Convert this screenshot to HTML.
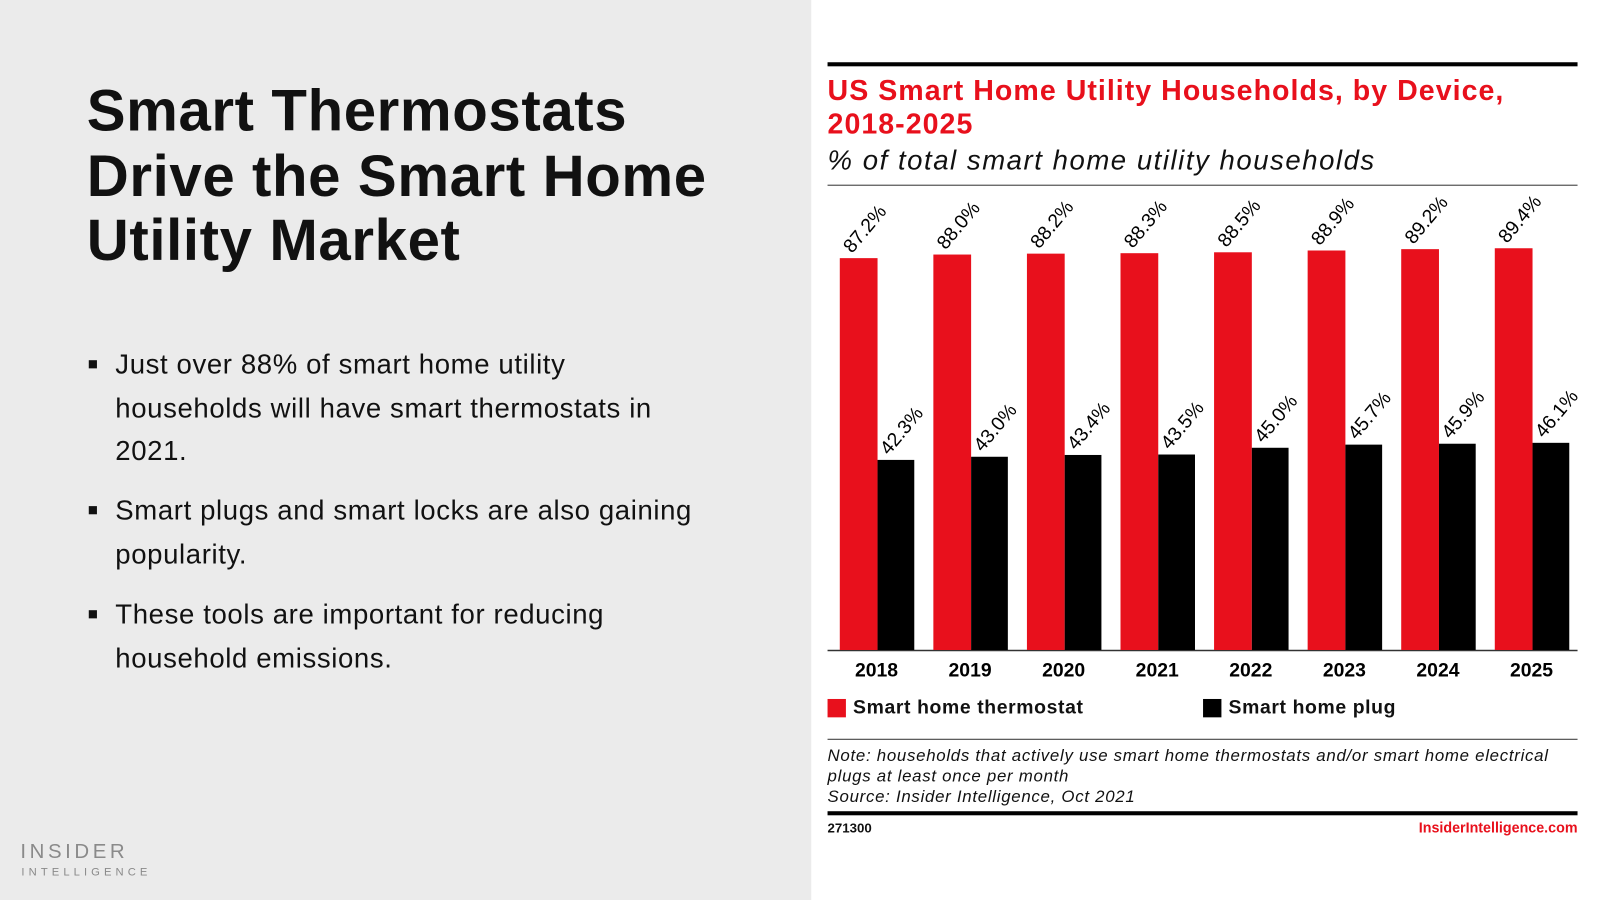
<!DOCTYPE html>
<html><head><meta charset="utf-8"><style>
html,body{margin:0;padding:0;width:1600px;height:900px;overflow:hidden;background:#fff}
#w{position:absolute;left:0;top:0;width:1568px;height:882px;transform:scale(1.0204);transform-origin:0 0;font-family:"Liberation Sans",sans-serif}
.left{position:absolute;left:0;top:0;width:795px;height:882px;background:#ebebeb}
h1{position:absolute;left:85px;top:78px;margin:0;font-size:57px;letter-spacing:0.6px;line-height:63.5px;font-weight:bold;color:#111}
.b{position:absolute;left:113px;font-size:27px;letter-spacing:0.6px;line-height:42.5px;color:#111;white-space:nowrap}
.b:before{content:"";position:absolute;left:-26px;top:17px;width:8px;height:8px;background:#111}
.t{position:absolute;white-space:nowrap}
</style></head><body><div id="w">
<div class="left"></div>
<h1>Smart Thermostats<br>Drive the Smart Home<br>Utility Market</h1>
<div class="b" style="top:336px">Just over 88% of smart home utility<br>households will have smart thermostats in<br>2021.</div>
<div class="b" style="top:479px">Smart plugs and smart locks are also gaining<br>popularity.</div>
<div class="b" style="top:581px">These tools are important for reducing<br>household emissions.</div>
<div class="t" style="left:20px;top:824px;font-size:20px;letter-spacing:3.5px;color:#8a8a8a">INSIDER</div>
<div class="t" style="left:21px;top:849px;font-size:11px;letter-spacing:4px;color:#8a8a8a">INTELLIGENCE</div>

<div style="position:absolute;left:811px;top:61px;width:735px;height:4px;background:#000"></div>
<div class="t" style="left:811px;top:72px;font-size:28px;letter-spacing:1px;line-height:33px;font-weight:bold;color:#e8101c">US Smart Home Utility Households, by Device,<br>2018-2025</div>
<div class="t" style="left:811px;top:142px;font-size:27px;letter-spacing:1.5px;font-style:italic;color:#111">% of total smart home utility households</div>
<div style="position:absolute;left:811px;top:181px;width:735px;height:1px;background:#333"></div>

<svg style="position:absolute;left:0;top:0" width="1568" height="882">
<line x1="811" y1="637.5" x2="1546" y2="637.5" stroke="#333" stroke-width="1.5"/>
<g id="bars"></g>
</svg>
<script>
var vr=[87.2,88.0,88.2,88.3,88.5,88.9,89.2,89.4],vb=[42.3,43.0,43.4,43.5,45.0,45.7,45.9,46.1];
var s='',k=4.404;
for(var i=0;i<8;i++){var x=823+i*91.7;var hr=vr[i]*k,hb=vb[i]*k;
s+='<rect x="'+x+'" y="'+(637-hr)+'" width="37" height="'+hr+'" fill="#e8101c"/>';
s+='<rect x="'+(x+37)+'" y="'+(637-hb)+'" width="36" height="'+hb+'" fill="#000"/>';
s+='<text transform="translate('+(x+12)+','+(637-hr-4)+') rotate(-50)" font-size="19" font-family="Liberation Sans, sans-serif">'+vr[i].toFixed(1)+'%</text>';
s+='<text transform="translate('+(x+48)+','+(637-hb-4)+') rotate(-50)" font-size="19" font-family="Liberation Sans, sans-serif">'+vb[i].toFixed(1)+'%</text>';
s+='<text x="'+(x+36)+'" y="663" text-anchor="middle" font-size="19" font-weight="bold" font-family="Liberation Sans, sans-serif">'+(2018+i)+'</text>';}
document.getElementById('bars').innerHTML=s;
</script>
<div style="position:absolute;left:811px;top:685px;width:18px;height:18px;background:#e8101c"></div>
<div class="t" style="left:836px;top:683px;font-size:19px;letter-spacing:0.6px;font-weight:bold;color:#111">Smart home thermostat</div>
<div style="position:absolute;left:1179px;top:685px;width:18px;height:18px;background:#000"></div>
<div class="t" style="left:1204px;top:683px;font-size:19px;letter-spacing:0.6px;font-weight:bold;color:#111">Smart home plug</div>
<div style="position:absolute;left:811px;top:724px;width:735px;height:1px;background:#333"></div>
<div class="t" style="left:811px;top:731px;font-size:16.5px;letter-spacing:0.7px;line-height:20px;font-style:italic;color:#111">Note: households that actively use smart home thermostats and/or smart home electrical<br>plugs at least once per month<br>Source: Insider Intelligence, Oct 2021</div>
<div style="position:absolute;left:811px;top:795px;width:735px;height:4px;background:#000"></div>
<div class="t" style="left:811px;top:804px;font-size:13px;font-weight:bold;color:#111">271300</div>
<div class="t" style="right:22px;top:803px;font-size:14px;font-weight:bold;color:#e8101c">InsiderIntelligence.com</div>
</div></body></html>
